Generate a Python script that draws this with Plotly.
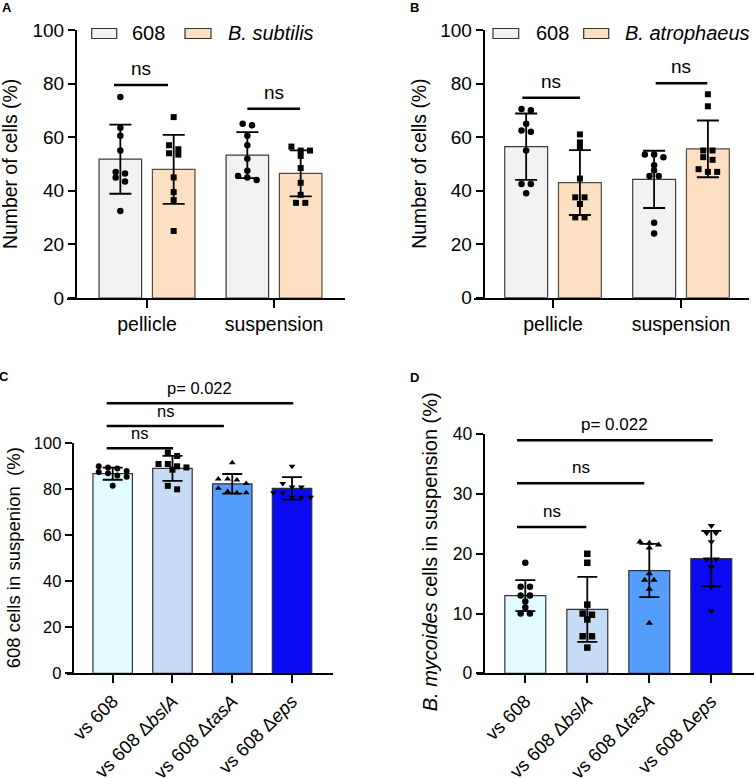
import plotly.graph_objects as go

W, H = 754, 778
FONT = "Liberation Sans, Arial, sans-serif"

# ---------------- data ----------------
AB_groups = ["pellicle", "suspension"]

A_608_mean = [51.8, 53.3]
A_608_sd = [12.9, 8.6]
A_608_pts = [[75, 63.5, 60.5, 55, 47, 46.5, 45, 43.5, 32.5],
             [65, 64.5, 60.5, 57, 52, 47.5, 45.5, 45, 44]]
A_bsub_mean = [48.0, 46.5]
A_bsub_sd = [12.9, 8.6]
A_bsub_pts = [[67.5, 57, 55.5, 54, 53.5, 45, 39.5, 36.5, 25],
              [56.5, 55, 55, 53, 48.5, 43, 38.5, 35.5, 35.5]]

B_608_mean = [56.4, 44.2]
B_608_sd = [12.4, 10.7]
B_608_pts = [[70.5, 70, 65, 62.5, 62, 55, 42.5, 42.5, 39],
             [53.5, 53.5, 52.5, 49.5, 47.5, 45.5, 45.5, 28, 24]]
B_atro_mean = [43.0, 55.6]
B_atro_sd = [12.1, 10.6]
B_atro_pts = [[61, 58, 56, 44.5, 37.5, 37.5, 35, 30, 30],
              [76, 71.5, 55, 55, 52.5, 51.5, 48, 47, 47]]

CD_labels = ["vs 608", "vs 608 Δ<i>bslA</i>", "vs 608 Δ<i>tasA</i>", "vs 608 Δ<i>eps</i>"]

C_mean = [86.8, 89.1, 82.4, 80.4]
C_sd = [2.65, 5.4, 4.25, 4.85]
C_pts = [[90, 89.5, 89, 88, 87.5, 87, 86, 85.5, 81.5],
         [96, 94.5, 91, 91, 90, 89.5, 88.5, 81.5, 80],
         [91.5, 84.5, 84.5, 84, 82.5, 80.5, 79, 78.5, 78.5],
         [90, 82.5, 81, 81, 78.5, 78.5, 76.5, 76.5, 76.5]]

D_mean = [13.0, 10.7, 17.2, 19.2]
D_sd = [2.6, 5.45, 4.45, 4.65]
D_pts = [[18.5, 14.5, 14.5, 13, 13, 12, 11, 10, 10],
         [20, 18.5, 11.5, 10, 9.8, 9, 6.2, 6.2, 4.3],
         [22, 21.8, 21.5, 21, 16.7, 15.6, 15.6, 14.1, 8.4],
         [24.7, 23.5, 23.5, 22, 19.1, 19.1, 17.8, 14.5, 10.4]]

# significance brackets: (x from, x to, level, label)
A_sig = [(-0.26, 0.165, 79.5, "ns"), (0.79, 1.205, 70.6, "ns")]
B_sig = [(-0.24, 0.211, 74.7, "ns"), (0.802, 1.205, 80.1, "ns")]
C_sig = [(-0.10, 1.01, 97.8, "ns"), (-0.10, 1.86, 107.5, "ns"), (-0.10, 3.02, 117.4, "p= 0.022")]
D_sig = [(-0.134, 0.984, 24.5, "ns"), (-0.134, 1.919, 31.8, "ns"), (-0.134, 3.023, 39.0, "p= 0.022")]

# ---------------- layout geometry (pixels) ----------------
geo = {
    "A": dict(x0=67, x1=345, xr=(-0.630, 1.559), yt=30, yb=298, yr=(0, 100), yax=76, ax="", dt=20),
    "B": dict(x0=473.7, x1=748.7, xr=(-0.620, 1.529), yt=30, yb=297.7, yr=(0, 100), yax=483.7, ax="2", dt=20),
    "C": dict(x0=66.7, x1=332.7, xr=(-0.769, 3.68), yt=443.3, yb=673.3, yr=(0, 100), yax=72.7, ax="3", dt=20),
    "D": dict(x0=477, x1=753.7, xr=(-0.779, 3.684), yt=434.3, yb=673.3, yr=(0, 40), yax=483.7, ax="4", dt=10),
}


def X(p):
    return p / W


def Y(p):
    return 1 - p / H


def ppx(pan):
    g = geo[pan]
    return (g["x1"] - g["x0"]) / (g["xr"][1] - g["xr"][0])


def ppy(pan):
    g = geo[pan]
    return (g["yb"] - g["yt"]) / (g["yr"][1] - g["yr"][0])


def to_px(pan, xv, yv):
    g = geo[pan]
    return (g["x0"] + (xv - g["xr"][0]) * ppx(pan), g["yb"] - (yv - g["yr"][0]) * ppy(pan))


def swarm(values, cx, pan, step=9.3, rowgap=5.0):
    vals = sorted(values, reverse=True)
    rows = []
    for v in vals:
        if rows and (rows[-1][0] - v) * ppy(pan) < rowgap:
            rows[-1].append(v)
        else:
            rows.append([v])
    xs, ys = [], []
    for row in rows:
        n = len(row)
        for k, v in enumerate(row):
            xs.append(cx + (k - (n - 1) / 2) * step / ppx(pan))
            ys.append(v)
    return xs, ys


fig = go.Figure()
shapes = []
annots = []


def add_bars(pan, xs, means, sds, width, fill, line, cap):
    a = geo[pan]["ax"]
    fig.add_trace(go.Bar(
        x=xs, y=means, width=width,
        marker=dict(color=fill, line=dict(color=line, width=1.2)),
        error_y=dict(type="data", array=sds, visible=True, color="black", thickness=1.8, width=cap),
        xaxis="x" + a, yaxis="y" + a, showlegend=False, hoverinfo="skip"))


def add_pts(pan, cx, vals, symbol, size):
    a = geo[pan]["ax"]
    xs, ys = swarm(vals, cx, pan)
    fig.add_trace(go.Scatter(
        x=xs, y=ys, mode="markers", cliponaxis=False,
        marker=dict(symbol=symbol, size=size, color="black", line=dict(width=0)),
        xaxis="x" + a, yaxis="y" + a, showlegend=False, hoverinfo="skip"))


def add_sig(pan, sigs, fs, lw):
    for (xa, xb, lev, lab) in sigs:
        x0, y0 = to_px(pan, xa, lev)
        x1, _ = to_px(pan, xb, lev)
        shapes.append(dict(type="line", xref="paper", yref="paper",
                           x0=X(x0), x1=X(x1), y0=Y(y0), y1=Y(y0),
                           line=dict(color="black", width=lw)))
        annots.append(dict(xref="paper", yref="paper", x=X((x0 + x1) / 2), y=Y(y0 - 4),
                           text=lab, showarrow=False, xanchor="center", yanchor="bottom",
                           font=dict(size=fs, color="black", family=FONT)))


# ---- Panel A / B ----
GRAY, PEACH = "#F2F2F2", "#FDDFC2"
off, bw = 0.21, 0.335
for pan, m1, s1, p1, m2, s2, p2 in [
        ("A", A_608_mean, A_608_sd, A_608_pts, A_bsub_mean, A_bsub_sd, A_bsub_pts),
        ("B", B_608_mean, B_608_sd, B_608_pts, B_atro_mean, B_atro_sd, B_atro_pts)]:
    add_bars(pan, [i - off for i in range(2)], m1, s1, bw, GRAY, "#3a3a3a", 11)
    add_bars(pan, [i + off for i in range(2)], m2, s2, bw, PEACH, "#5a4a3e", 11)
    for i in range(2):
        add_pts(pan, i - off, p1[i], "circle", 6.5)
        add_pts(pan, i + off, p2[i], "square", 6)

add_sig("A", A_sig, 19, 2.5)
add_sig("B", B_sig, 19, 2.5)

# ---- Panel C / D ----
BLUES = ["#E2FBFF", "#C6DBF5", "#559EFB", "#0A0AF2"]
SYMS = ["circle", "square", "triangle-up", "triangle-down"]
for pan, means, sds, pts in [("C", C_mean, C_sd, C_pts), ("D", D_mean, D_sd, D_pts)]:
    for i in range(4):
        add_bars(pan, [i], [means[i]], [sds[i]], 0.66, BLUES[i], "#2e3140", 10)
    for i in range(4):
        add_pts(pan, i, pts[i], SYMS[i], 6 if pan == "C" else 6.5)

add_sig("C", C_sig, 16.5, 2.5)
add_sig("D", D_sig, 17, 2.5)

# ---- axes ----
layout_axes = {}
tickfont = {"A": 19, "B": 19, "C": 16.5, "D": 17.5}
for pan, g in geo.items():
    a = g["ax"]
    ytv = list(range(int(g["yr"][0]), int(g["yr"][1]) + 1, g["dt"]))
    layout_axes["yaxis" + a] = dict(
        domain=[Y(g["yb"]), Y(g["yt"])], range=list(g["yr"]), anchor="free", position=X(g["yax"]),
        automargin=False,
        showgrid=False, zeroline=False, showline=True, linecolor="black", linewidth=2,
        ticks="outside", ticklen=7, tickwidth=2, tickcolor="black",
        tickvals=ytv, ticktext=[str(v) for v in ytv],
        tickfont=dict(size=tickfont[pan], color="black", family=FONT))
    if pan in ("A", "B"):
        tv, tt, ang, xf = [0, 1], AB_groups, 0, 19.5
    else:
        tv, tt, ang, xf = [0, 1, 2, 3], CD_labels, -45, 18.5
    layout_axes["xaxis" + a] = dict(
        domain=[X(g["x0"]), X(g["x1"])], range=list(g["xr"]), anchor="y" + a,
        automargin=False,
        showgrid=False, zeroline=False, showline=True, linecolor="black", linewidth=2,
        ticks="outside", ticklen=8, tickwidth=2, tickcolor="black",
        tickvals=tv, ticktext=tt, tickangle=ang,
        tickfont=dict(size=xf, color="black", family=FONT))

# ---- y titles ----
ytitles = [
    (10, 164, "Number of cells (%)", 19.4),
    (418.7, 164, "Number of cells (%)", 19.4),
    (13.3, 558, "608 cells in suspenion\u00a0 (%)", 18.5),
    (430.3, 552, "<i>B. mycoides</i> cells in suspension (%)", 20),
]
for (xp, yp, txt, fs) in ytitles:
    annots.append(dict(xref="paper", yref="paper", x=X(xp), y=Y(yp), text=txt, textangle=-90,
                       showarrow=False, xanchor="center", yanchor="middle",
                       font=dict(size=fs, color="black", family=FONT)))

# ---- panel letters ----
for (xp, yp, txt) in [(7, 8, "A"), (414, 8, "B"), (4, 376, "C"), (414, 377, "D")]:
    annots.append(dict(xref="paper", yref="paper", x=X(xp), y=Y(yp), text="<b>" + txt + "</b>",
                       showarrow=False, xanchor="center", yanchor="middle",
                       font=dict(size=13, color="black", family=FONT)))

# ---- legends (A and B) ----
legends = [
    [(91.7, 116.7, GRAY, "608", 130), (185, 211, PEACH, "<i>B. subtilis</i>", 226)],
    [(493, 518.7, GRAY, "608", 533.7), (583.7, 608.7, PEACH, "<i>B. atrophaeus</i>", 623)],
]
for leg in legends:
    for (bx0, bx1, col, txt, tx) in leg:
        shapes.append(dict(type="rect", xref="paper", yref="paper", x0=X(bx0), x1=X(bx1),
                           y0=Y(38.5), y1=Y(28.5), fillcolor=col, line=dict(color="#333333", width=1.2)))
        annots.append(dict(xref="paper", yref="paper", x=X(tx), y=Y(33), text=txt, showarrow=False,
                           xanchor="left", yanchor="middle",
                           font=dict(size=20, color="black", family=FONT)))

fig.update_layout(
    width=W, height=H, margin=dict(l=0, r=0, t=0, b=0, pad=0, autoexpand=False),
    paper_bgcolor="white", plot_bgcolor="white", barmode="overlay",
    showlegend=False, shapes=shapes, annotations=annots,
    font=dict(family=FONT, color="black"),
    **layout_axes)

fig.write_html("out.html", config={"displayModeBar": False},
               post_script="document.body.style.margin='0';document.body.style.overflow='hidden';")
